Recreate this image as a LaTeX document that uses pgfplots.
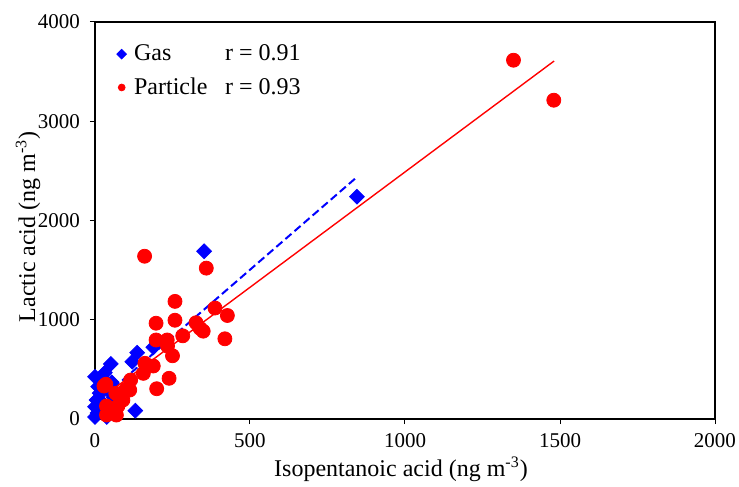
\documentclass[border=0pt]{standalone}
\usepackage{fontspec}
\setmainfont{Liberation Serif}
\usepackage{pgfplots}
\pgfplotsset{compat=1.18}

\begin{document}
\begin{tikzpicture}
\begin{axis}[
  scale only axis,
  width=310pt, height=198.5pt,
  xmin=0, xmax=2000, ymin=0, ymax=4000,
  xtick={0,500,...,2000}, ytick={0,1000,...,4000},
  tick align=outside, tick pos=left,
  major tick length=2.5pt,
  tick style={black, line width=0.5pt},
  axis line style={line width=0.6pt},
  /pgf/number format/assume math mode=true,
  /pgf/number format/set thousands separator={},
  ticklabel style={font=\fontsize{10.5}{12}\selectfont},
  yticklabel style={xshift=-1.5pt},
  xticklabel style={yshift=-1pt},
  xlabel={Isopentanoic acid (ng m\textsuperscript{-3})},
  ylabel={Lactic acid (ng m\textsuperscript{-3})},
  label style={font=\fontsize{12}{14}\selectfont},
  xlabel style={at={(axis description cs:0.4935,-0.126)}, anchor=center},
  ylabel style={at={(axis description cs:-0.108,0.484)}, anchor=center},
  legend style={at={(0.025,0.964)}, anchor=north west, draw=none, fill=none,
    font=\fontsize{12}{14}\selectfont, row sep=3pt},
  legend image code/.code={\draw[#1, mark size=1.7pt] plot coordinates {(0cm,0cm)}; \path (4pt,0pt);},
  legend cell align=left,
]
% gas phase
\addplot[only marks, mark=square*, mark size=2.6pt, mark options={rotate=45}, color=blue]
  coordinates {
  (845,2240) (352,1690) (188,722) (136,668) (120,577) (51,555)
  (0,426) (32,467) (27,405) (54,370) (10,326) (5,191) (0,124)
  (16,74) (0,20) (38,20) (130,84) (15,260) (25,160) (40,300)
  (60,220) (20,350) (45,120) (8,60)
  };
\addlegendentry{\makebox[45.5pt][l]{Gas}r = 0.91}
% particle phase
\addplot[only marks, mark=*, mark size=3.5pt, color=red]
  coordinates {
  (1350,3615) (1480,3212) (160,1640) (359,1520) (258,1185) (197,965)
  (258,995) (387,1118) (427,1043) (326,970) (349,885) (339,913)
  (283,838) (197,796) (233,796) (234,735) (419,808) (250,637)
  (161,561) (188,534) (156,460) (115,393) (239,410) (199,305)
  (112,292) (29,332) (67,259) (90,191) (74,131) (37,131) (37,40)
  (69,40) (35,350) (50,90) (100,300)
  };
\addlegendentry{\makebox[45.5pt][l]{Particle}r = 0.93}
% fitted lines
\addplot[forget plot, blue, line width=1pt, dash pattern=on 4pt off 2pt]
  coordinates {(0,150) (845,2438)};
\addplot[forget plot, red, line width=0.7pt]
  coordinates {(29,232) (1481,3607)};
\end{axis}
\pgfresetboundingbox
\path[use as bounding box] ([xshift=-47.5pt,yshift=-34pt]current axis.south west)
  rectangle ([xshift=12pt,yshift=11pt]current axis.north east);
\end{tikzpicture}
\end{document}
